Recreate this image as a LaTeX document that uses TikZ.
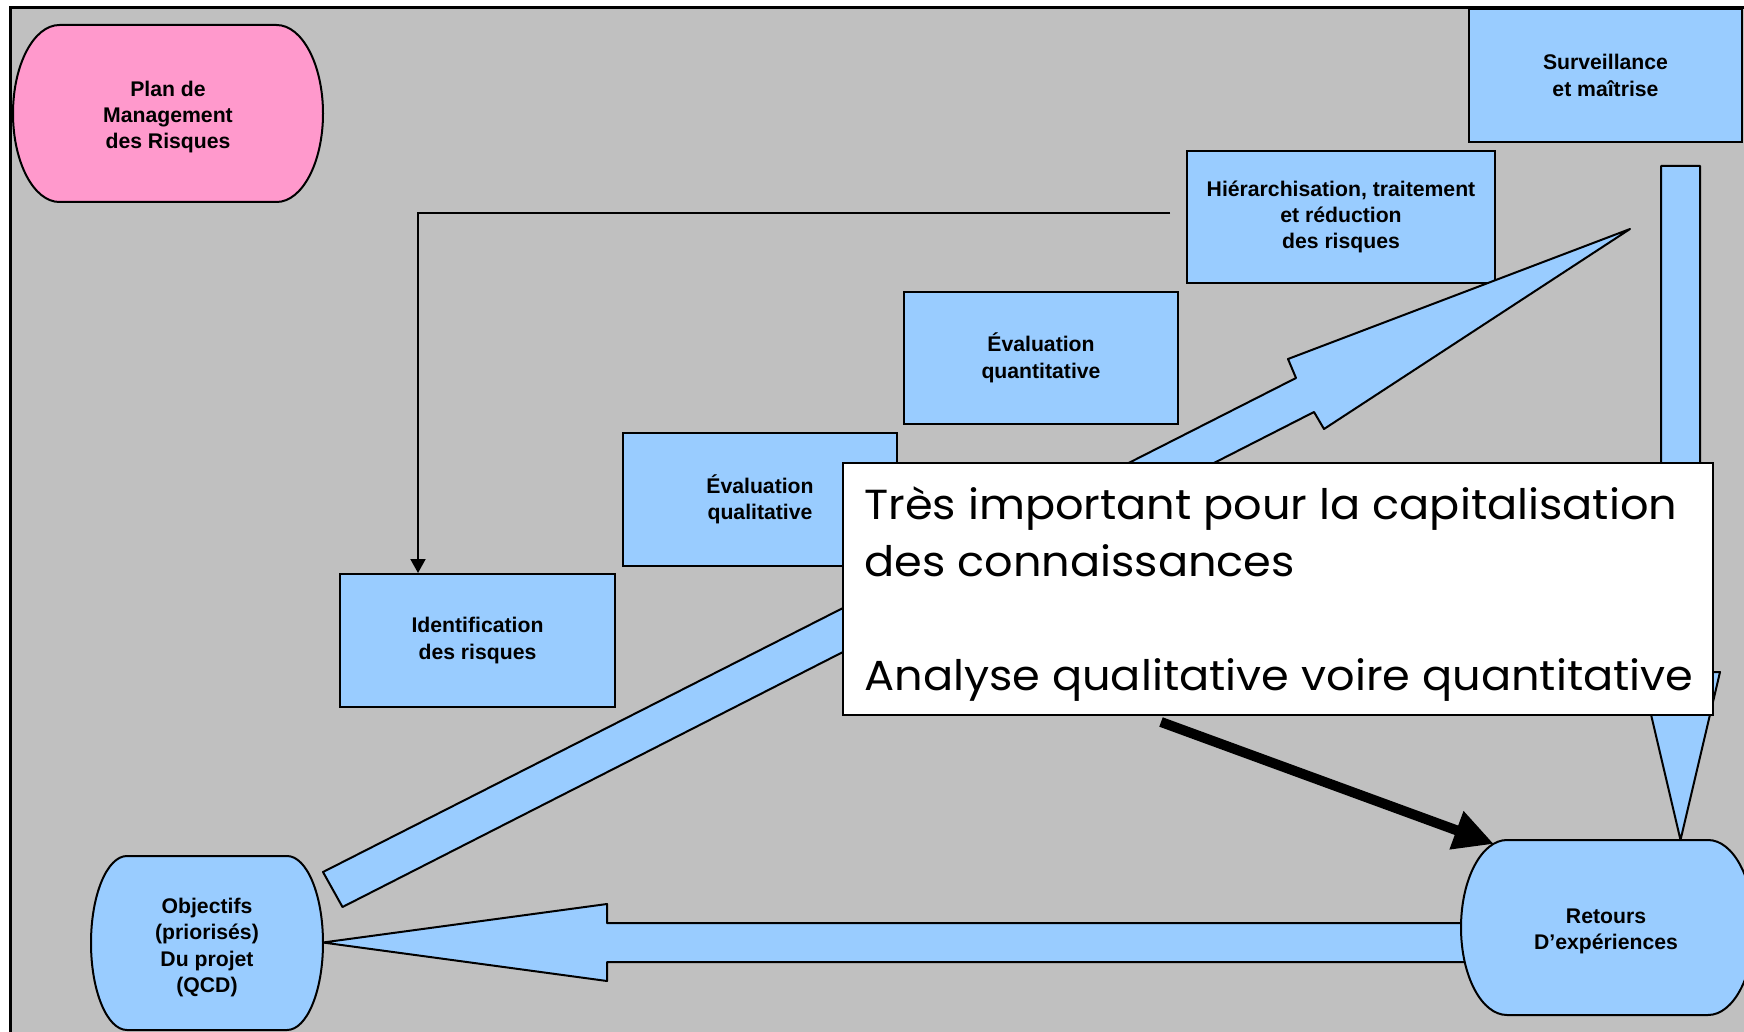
\documentclass[tikz,border=0pt]{standalone}
\usepackage{fontspec}
\setmainfont{Liberation Sans}
\newfontfamily\callfont[FakeStretch=1.063]{Poppins}
\usetikzlibrary{arrows.meta,calc}
\definecolor{bgGray}{RGB}{192,192,192}
\definecolor{boxBlue}{RGB}{153,204,255}
\definecolor{planPink}{RGB}{255,153,204}
% bulged (barrel) shape: style, cx, cy, half flat width, bulge, half height
\newcommand\bulgeshape[6]{%
  \pgfmathsetmacro\bgXa{#2-#4}\pgfmathsetmacro\bgXb{#2+#4}%
  \pgfmathsetmacro\bgXl{#2-#4-#5}\pgfmathsetmacro\bgXr{#2+#4+#5}%
  \pgfmathsetmacro\bgYt{#3-#6}\pgfmathsetmacro\bgYb{#3+#6}%
  \pgfmathsetmacro\bgKx{0.5523*#5}\pgfmathsetmacro\bgKy{0.5523*#6}%
  \path[#1] (\bgXa,\bgYt) -- (\bgXb,\bgYt)
    .. controls ({\bgXb+\bgKx},\bgYt) and (\bgXr,{#3-\bgKy}) .. (\bgXr,#3)
    .. controls (\bgXr,{#3+\bgKy}) and ({\bgXb+\bgKx},\bgYb) .. (\bgXb,\bgYb)
    -- (\bgXa,\bgYb)
    .. controls ({\bgXa-\bgKx},\bgYb) and (\bgXl,{#3+\bgKy}) .. (\bgXl,#3)
    .. controls (\bgXl,{#3-\bgKy}) and ({\bgXa-\bgKx},\bgYt) .. (\bgXa,\bgYt) -- cycle;}
\begin{document}
\begin{tikzpicture}[x=0.5pt,y=-0.5pt,
  boxtxt/.style={font=\fontsize{10.6pt}{13.2pt}\selectfont\bfseries, align=center},
  bluebox/.style={boxtxt, draw=black, line width=1pt, fill=boxBlue, inner sep=0pt},
  blockarrow/.style={draw=black, line width=1pt, fill=boxBlue, line join=round},
  shapeline/.style={draw=black, line width=1pt},
  calltxt/.style={anchor=base west, inner sep=0pt, font=\callfont\fontsize{21pt}{28.6pt}\selectfont},
  conn/.style={draw=black, line width=1pt, -{Triangle[length=7pt,width=7.5pt]}},
  bigconn/.style={draw=black, line width=5pt, -{Triangle[length=20pt,width=19pt]}},
]
\useasboundingbox (0,0) rectangle (1744,1032);
\clip (0,0) rectangle (1744,1032);
\fill[white] (0,0) rectangle (1744,1032);
\draw[line width=1.5pt, fill=bgGray] (10,8) rectangle (1790,1080);

% vertical block arrow (down)
\path[blockarrow] (1661,166) -- (1700,166) -- (1700,672) -- (1720,672)
  -- (1680.5,840) -- (1641,672) -- (1661,672) -- cycle;
% horizontal block arrow (left)
\path[blockarrow] (1470,923) -- (607,923) -- (607,904) -- (323,942.5)
  -- (607,981) -- (607,962) -- (1470,962);

% boxes
\node[bluebox, minimum width=136.5pt, minimum height=66.5pt] (surv) at (1605.5,75.5) {Surveillance\\et maîtrise};
\node[bluebox, minimum width=154pt, minimum height=66pt] (hier) at (1341,217) {Hiérarchisation, traitement\\et réduction\\des risques};
\node[bluebox, minimum width=137pt, minimum height=66pt] (quant) at (1041,358) {Évaluation\\quantitative};
\node[bluebox, minimum width=137pt, minimum height=66.5pt] (qual) at (760,499.5) {Évaluation\\qualitative};
\node[bluebox, minimum width=137.5pt, minimum height=66.5pt] (ident) at (477.5,640.5) {Identification\\des risques};

% connector from Hiérarchisation to Identification
\coordinate (cstart) at ($(hier.west)+(-16,-4)$);
\draw[conn] (cstart) -| ($(ident.north west)+(79,0)$);

% diagonal block arrow
\path[blockarrow] (323,872) -- (1296,378) -- (1288,359) -- (1630,229)
  -- (1324,429) -- (1314,412) -- (342.5,907) -- cycle;

% callout
\node[draw=black, line width=1pt, fill=white, minimum width=435pt, minimum height=126pt,
  inner sep=0pt] (callout) at (1278,589) {};
\node[calltxt] (ct1) at ($(callout.north west)+(22,57)$) {Très important pour la capitalisation};
\node[calltxt] (ct2) at ($(callout.north west)+(22,114)$) {des connaissances};
\node[calltxt] (ct3) at ($(callout.north west)+(22,228)$) {Analyse qualitative voire quantitative};

% barrel shapes
\bulgeshape{shapeline, fill=planPink}{168}{113.5}{108.5}{46.5}{88.5}
\node[boxtxt] (plan) at (168,117) {Plan de\\Management\\des Risques};
\bulgeshape{shapeline, fill=boxBlue}{207}{943}{80}{36}{87}
\node[boxtxt] (obj) at (207,947.5) {Objectifs\\(priorisés)\\Du projet\\(QCD)};
\bulgeshape{shapeline, fill=boxBlue}{1607.5}{927.5}{100.5}{46}{87.5}
\node[boxtxt] (retex) at (1606,931.5) {Retours\\D’expériences};

% black arrow from callout to Retours
\coordinate (bs) at ($(callout.south west)+(319,6)$);
\coordinate (be) at (1494,844);
\draw[bigconn] (bs) -- (be);
\end{tikzpicture}
\end{document}
